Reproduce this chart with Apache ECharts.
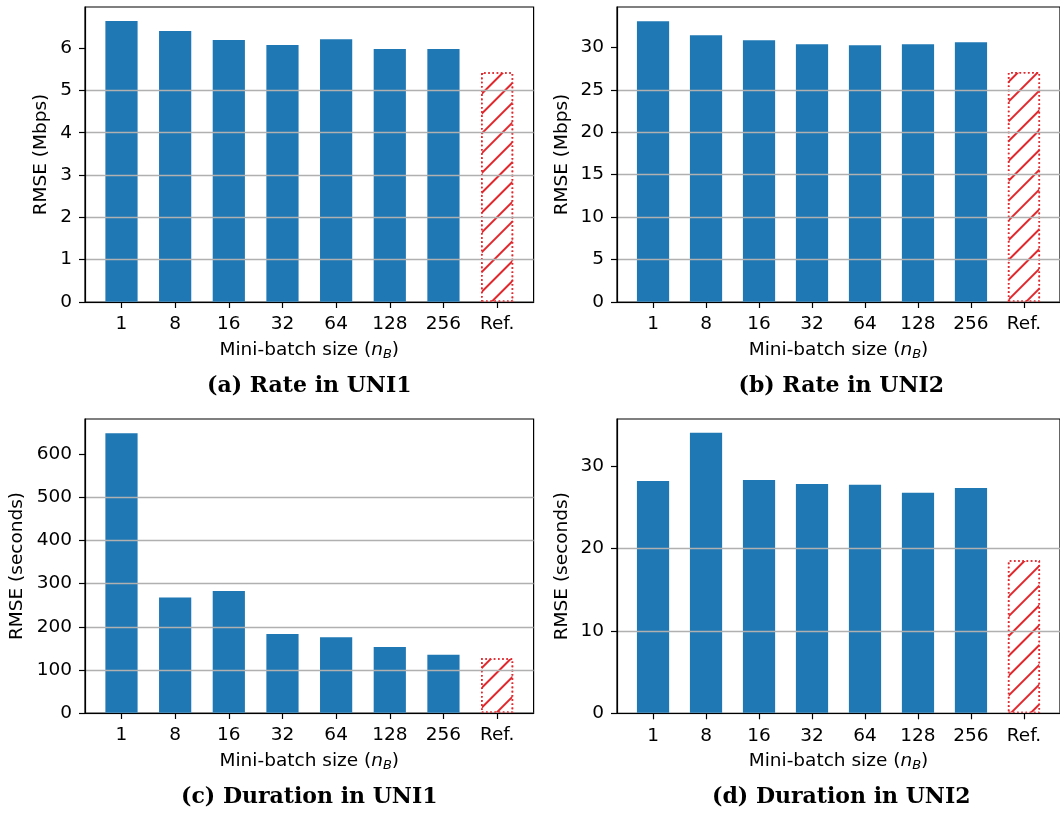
<!DOCTYPE html>
<html>
<head>
<meta charset="utf-8">
<script src="https://cdn.jsdelivr.net/npm/echarts@6/dist/echarts.min.js"></script>
<style>
html,body{margin:0;padding:0;background:#fff;}
#chart{width:1060px;height:813px;}
</style>
</head>
<body>
<div id="chart"></div>
<script>
// ---- data ----
const categories = ['1', '8', '16', '32', '64', '128', '256', 'Ref.'];
const rateUni1 = [6.64, 6.40, 6.19, 6.07, 6.21, 5.98, 5.98, 5.43];
const rateUni2 = [33.06, 31.41, 30.82, 30.35, 30.24, 30.35, 30.59, 27.1];
const durationUni1 = [649, 268, 283, 183, 176, 153, 135, 127];
const durationUni2 = [28.19, 34.02, 28.31, 27.83, 27.71, 26.74, 27.34, 18.57];
const ticksRateUni1 = [0, 1, 2, 3, 4, 5, 6];
const ticksRateUni2 = [0, 5, 10, 15, 20, 25, 30];
const ticksDurUni1 = [0, 100, 200, 300, 400, 500, 600];
const ticksDurUni2 = [0, 10, 20, 30];
const panelTitles = ['(a) Rate in UNI1', '(b) Rate in UNI2', '(c) Duration in UNI1', '(d) Duration in UNI2'];
const yNames = ['RMSE (Mbps)', 'RMSE (Mbps)', 'RMSE (seconds)', 'RMSE (seconds)'];
const xName = 'Mini-batch size ({it|n}{sub|B})';

// ---- layout / style ----
const FONT = 'DejaVu Sans';
const BLUE = '#1f77b4';
const RED = '#e0282d';
const FS = 18.5;
const grids = [
  {left: 85, top: 7, width: 448.6, height: 295},
  {left: 617, top: 7, width: 448.6, height: 295},
  {left: 85, top: 419, width: 448.6, height: 294},
  {left: 617, top: 419, width: 448.6, height: 294.3}
];
const panels = [
  {data: rateUni1, ticks: ticksRateUni1, max: 6.97, interval: 1, gap: 34},
  {data: rateUni2, ticks: ticksRateUni2, max: 34.75, interval: 5, gap: 45.5},
  {data: durationUni1, ticks: ticksDurUni1, max: 682, interval: 100, gap: 58.5},
  {data: durationUni2, ticks: ticksDurUni2, max: 35.7, interval: 10, gap: 45.5}
];
const catIdx = categories.map((c, i) => i);

const option = {
  animation: false,
  backgroundColor: '#fff',
  title: panelTitles.map((t, i) => ({
    text: t,
    left: grids[i].left + 224.3,
    top: i < 2 ? 375 : 786,
    textAlign: 'center',
    padding: 0,
    textStyle: {fontFamily: 'DejaVu Serif', fontWeight: 'bold', fontSize: 22, color: '#000'}
  })),
  grid: grids.map(g => Object.assign({show: true, borderColor: '#000', borderWidth: 1.2, backgroundColor: 'transparent'}, g)),
  xAxis: grids.map((g, i) => ({
    gridIndex: i,
    type: 'value',
    min: -0.68,
    max: 7.68,
    z: 6,
    name: xName,
    nameLocation: 'middle',
    nameGap: 37,
    nameTextStyle: {
      fontFamily: FONT, fontSize: FS, color: '#000',
      rich: {
        it: {fontFamily: FONT, fontSize: FS, fontStyle: 'italic', color: '#000'},
        sub: {fontFamily: FONT, fontSize: 13, fontStyle: 'italic', color: '#000', padding: [9, 0, 0, 0]}
      }
    },
    axisLine: {show: true, onZero: false, lineStyle: {color: '#000', width: 1.2}},
    axisTick: {show: true, customValues: catIdx, length: 6, lineStyle: {color: '#000', width: 1.2}},
    axisLabel: {
      customValues: catIdx, margin: 13,
      formatter: v => categories[Math.round(v)],
      fontFamily: FONT, fontSize: FS, color: '#000'
    },
    splitLine: {show: false}
  })),
  yAxis: panels.map((p, i) => ({
    gridIndex: i,
    type: 'value',
    min: 0,
    max: p.max,
    interval: p.interval,
    z: 5,
    name: yNames[i],
    nameLocation: 'middle',
    nameGap: p.gap,
    nameRotate: 90,
    nameTextStyle: {fontFamily: FONT, fontSize: FS, color: '#000'},
    axisLine: {show: true, onZero: false, lineStyle: {color: '#000', width: 1.2}},
    axisTick: {show: true, customValues: p.ticks, length: 6, lineStyle: {color: '#000', width: 1.2}},
    axisLabel: {customValues: p.ticks, margin: 13, fontFamily: FONT, fontSize: FS, color: '#000'},
    splitLine: {show: true, showMaxLine: false, lineStyle: {color: '#b0b0b0', width: 1.4}}
  })),
  series: panels.map((p, i) => ({
    type: 'bar',
    xAxisIndex: i,
    yAxisIndex: i,
    barWidth: 32.2,
    itemStyle: {color: BLUE},
    data: p.data.map((v, k) => {
      if (categories[k] === 'Ref.') {
        return {
          value: [k, v],
          itemStyle: {
            color: '#fff',
            borderColor: RED,
            borderWidth: 1.6,
            borderType: [1.6, 2.6],
            decal: {
              symbol: 'rect',
              symbolSize: 1,
              color: RED,
              backgroundColor: 'rgba(0,0,0,0)',
              dashArrayX: [1, 0],
              dashArrayY: [1.6, 11.6],
              rotation: -Math.PI / 4
            }
          }
        };
      }
      return {value: [k, v]};
    })
  }))
};

const chart = echarts.init(document.getElementById('chart'), null, {renderer: 'canvas'});
chart.setOption(option);
</script>
</body>
</html>
